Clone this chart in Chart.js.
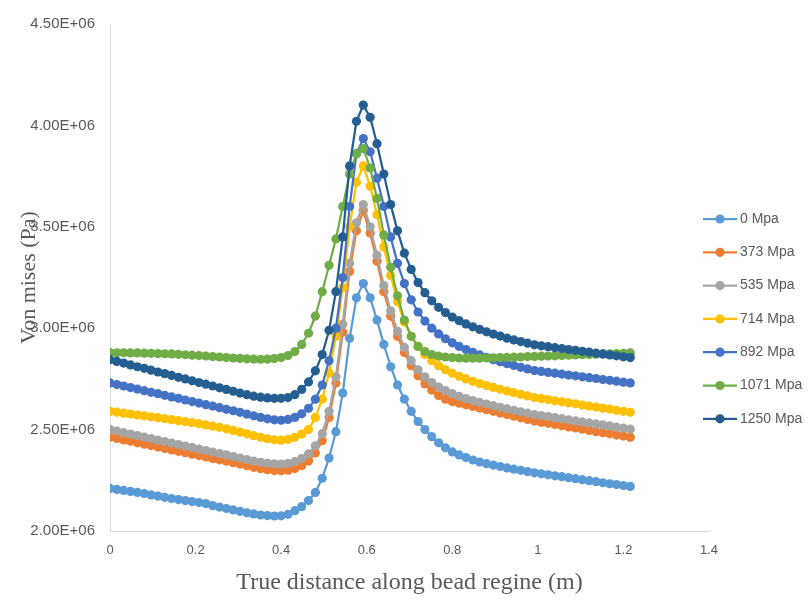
<!DOCTYPE html>
<html>
<head>
<meta charset="utf-8">
<script src="https://cdn.jsdelivr.net/npm/chart.js@4.4.1/dist/chart.umd.min.js"></script>
<style>
  body { margin: 0; background: #fff; }
  #wrap { width: 811px; height: 605px; }
</style>
</head>
<body>
<div id="wrap"><canvas id="vmChart" width="811" height="605"></canvas></div>
<script>
// distance along bead (m)
const distance = [
  0, 0.016, 0.032, 0.048, 0.064, 0.08, 0.096, 0.112, 0.128, 0.144,
  0.16, 0.176, 0.192, 0.208, 0.224, 0.24, 0.256, 0.272, 0.288, 0.304,
  0.32, 0.336, 0.352, 0.368, 0.384, 0.4, 0.416, 0.432, 0.448, 0.464,
  0.48, 0.496, 0.512, 0.528, 0.544, 0.56, 0.576, 0.592, 0.608, 0.624,
  0.64, 0.656, 0.672, 0.688, 0.704, 0.72, 0.736, 0.752, 0.768, 0.784,
  0.8, 0.816, 0.832, 0.848, 0.864, 0.88, 0.896, 0.912, 0.928, 0.944,
  0.96, 0.976, 0.992, 1.008, 1.024, 1.04, 1.056, 1.072, 1.088, 1.104,
  1.12, 1.136, 1.152, 1.168, 1.184, 1.2, 1.216
];

// von mises stress, in MPa (1 MPa = 1.00E+06 Pa)
const p0 = [
  2.210, 2.205, 2.200, 2.195, 2.190, 2.185, 2.178, 2.172, 2.166, 2.160,
  2.155, 2.150, 2.145, 2.140, 2.135, 2.125, 2.118, 2.111, 2.104, 2.097,
  2.090, 2.084, 2.079, 2.076, 2.074, 2.075, 2.082, 2.100, 2.120, 2.150,
  2.190, 2.260, 2.360, 2.490, 2.680, 2.950, 3.150, 3.220, 3.150, 3.040,
  2.920, 2.810, 2.720, 2.650, 2.590, 2.540, 2.500, 2.465, 2.435, 2.410,
  2.390, 2.375, 2.362, 2.350, 2.340, 2.332, 2.325, 2.318, 2.311, 2.305,
  2.299, 2.293, 2.287, 2.282, 2.277, 2.272, 2.268, 2.263, 2.258, 2.253,
  2.248, 2.243, 2.238, 2.233, 2.229, 2.224, 2.220
];
const p373 = [
  2.463, 2.456, 2.449, 2.442, 2.435, 2.428, 2.421, 2.414, 2.407, 2.400,
  2.393, 2.386, 2.379, 2.372, 2.365, 2.358, 2.351, 2.344, 2.337, 2.330,
  2.322, 2.314, 2.307, 2.302, 2.298, 2.297, 2.300, 2.308, 2.322, 2.345,
  2.385, 2.445, 2.560, 2.730, 2.980, 3.280, 3.480, 3.580, 3.470, 3.330,
  3.180, 3.060, 2.960, 2.880, 2.815, 2.765, 2.725, 2.695, 2.668, 2.650,
  2.638, 2.630, 2.622, 2.614, 2.606, 2.598, 2.590, 2.582, 2.574, 2.566,
  2.558, 2.550, 2.542, 2.536, 2.531, 2.525, 2.519, 2.513, 2.508, 2.502,
  2.496, 2.490, 2.485, 2.479, 2.473, 2.468, 2.462
];
const p535 = [
  2.500, 2.493, 2.485, 2.478, 2.471, 2.463, 2.456, 2.448, 2.441, 2.434,
  2.426, 2.419, 2.412, 2.404, 2.397, 2.389, 2.382, 2.375, 2.367, 2.360,
  2.352, 2.345, 2.339, 2.334, 2.331, 2.330, 2.333, 2.342, 2.357, 2.380,
  2.420, 2.480, 2.590, 2.760, 3.020, 3.320, 3.520, 3.610, 3.500, 3.360,
  3.210, 3.085, 2.985, 2.905, 2.840, 2.795, 2.760, 2.732, 2.710, 2.692,
  2.677, 2.664, 2.653, 2.643, 2.634, 2.626, 2.618, 2.610, 2.602, 2.595,
  2.588, 2.581, 2.574, 2.569, 2.564, 2.559, 2.554, 2.548, 2.543, 2.538,
  2.533, 2.528, 2.523, 2.518, 2.512, 2.507, 2.502
];
const p714 = [
  2.590, 2.586, 2.581, 2.577, 2.572, 2.568, 2.563, 2.559, 2.554, 2.549,
  2.544, 2.539, 2.534, 2.529, 2.523, 2.517, 2.511, 2.504, 2.496, 2.488,
  2.479, 2.470, 2.462, 2.455, 2.450, 2.448, 2.452, 2.462, 2.478, 2.500,
  2.560, 2.650, 2.780, 2.960, 3.200, 3.500, 3.720, 3.800, 3.700, 3.560,
  3.400, 3.260, 3.130, 3.030, 2.960, 2.910, 2.870, 2.840, 2.815, 2.795,
  2.778, 2.763, 2.750, 2.738, 2.727, 2.717, 2.708, 2.699, 2.690, 2.682,
  2.674, 2.666, 2.658, 2.653, 2.648, 2.642, 2.637, 2.632, 2.627, 2.621,
  2.616, 2.611, 2.606, 2.601, 2.595, 2.590, 2.585
];
const p892 = [
  2.730, 2.722, 2.715, 2.707, 2.700, 2.692, 2.684, 2.677, 2.669, 2.661,
  2.654, 2.646, 2.638, 2.631, 2.623, 2.616, 2.608, 2.600, 2.593, 2.585,
  2.576, 2.568, 2.560, 2.553, 2.548, 2.546, 2.550, 2.560, 2.578, 2.605,
  2.650, 2.720, 2.840, 3.000, 3.250, 3.600, 3.860, 3.935, 3.870, 3.740,
  3.600, 3.450, 3.320, 3.220, 3.140, 3.080, 3.035, 3.000, 2.972, 2.948,
  2.928, 2.910, 2.895, 2.881, 2.868, 2.856, 2.845, 2.835, 2.825, 2.816,
  2.807, 2.799, 2.791, 2.787, 2.782, 2.778, 2.774, 2.769, 2.765, 2.760,
  2.756, 2.752, 2.747, 2.743, 2.739, 2.734, 2.730
];
const p1071 = [
  2.880, 2.879, 2.879, 2.878, 2.878, 2.877, 2.876, 2.875, 2.874, 2.873,
  2.871, 2.869, 2.867, 2.865, 2.863, 2.860, 2.858, 2.855, 2.853, 2.851,
  2.849, 2.848, 2.847, 2.848, 2.850, 2.855, 2.865, 2.885, 2.920, 2.975,
  3.060, 3.180, 3.310, 3.440, 3.600, 3.760, 3.860, 3.885, 3.790, 3.640,
  3.460, 3.300, 3.160, 3.040, 2.960, 2.910, 2.885, 2.870, 2.862, 2.858,
  2.855, 2.853, 2.852, 2.852, 2.852, 2.853, 2.854, 2.855, 2.856, 2.857,
  2.858, 2.860, 2.861, 2.862, 2.863, 2.864, 2.866, 2.867, 2.868, 2.869,
  2.870, 2.871, 2.873, 2.874, 2.875, 2.876, 2.878
];
const p1250 = [
  2.845, 2.836, 2.828, 2.819, 2.810, 2.802, 2.793, 2.784, 2.776, 2.767,
  2.758, 2.750, 2.741, 2.732, 2.724, 2.715, 2.706, 2.698, 2.689, 2.680,
  2.672, 2.665, 2.660, 2.656, 2.654, 2.654, 2.658, 2.672, 2.698, 2.735,
  2.790, 2.870, 2.990, 3.180, 3.450, 3.800, 4.020, 4.100, 4.040, 3.910,
  3.760, 3.610, 3.480, 3.370, 3.290, 3.225, 3.175, 3.135, 3.103, 3.077,
  3.055, 3.037, 3.021, 3.007, 2.994, 2.982, 2.971, 2.961, 2.951, 2.942,
  2.934, 2.926, 2.918, 2.913, 2.909, 2.904, 2.900, 2.895, 2.891, 2.886,
  2.882, 2.877, 2.873, 2.868, 2.864, 2.859, 2.855
];

const seriesNames = ['0 Mpa', '373 Mpa', '535 Mpa', '714 Mpa', '892 Mpa', '1071 Mpa', '1250 Mpa'];
const seriesValues = [p0, p373, p535, p714, p892, p1071, p1250];
const seriesColors = ['#5B9BD5', '#ED7D31', '#A5A5A5', '#FFC000', '#4472C4', '#70AD47', '#255E91'];

const xTickLabels = ['0', '0.2', '0.4', '0.6', '0.8', '1', '1.2', '1.4'];
const yTickLabels = ['2.00E+06', '2.50E+06', '3.00E+06', '3.50E+06', '4.00E+06', '4.50E+06'];

const grey = '#595959';

const datasets = seriesNames.map((name, s) => ({
  label: name,
  data: distance.map((x, i) => ({ x: x, y: seriesValues[s][i] })),
  borderColor: seriesColors[s],
  backgroundColor: seriesColors[s],
  borderWidth: 2.25,
  pointRadius: 4.6,
  pointBorderWidth: 0,
  tension: 0,
  order: seriesNames.length - 1 - s // later series drawn on top, like excel
}));

// legend on the right: short line with a marker, then the name
const sideLegend = {
  id: 'sideLegend',
  afterDraw(chart) {
    const c = chart.ctx;
    const x0 = 703, x1 = 737, top = 219, step = 33.3;
    c.save();
    c.font = '14px "Liberation Sans", Arial, sans-serif';
    c.textBaseline = 'middle';
    c.textAlign = 'left';
    seriesNames.forEach((name, i) => {
      const y = top + i * step;
      c.strokeStyle = seriesColors[i];
      c.lineWidth = 2.25;
      c.beginPath();
      c.moveTo(x0, y);
      c.lineTo(x1, y);
      c.stroke();
      c.fillStyle = seriesColors[i];
      c.beginPath();
      c.arc((x0 + x1) / 2, y, 4.6, 0, Math.PI * 2);
      c.fill();
      c.fillStyle = grey;
      c.fillText(name, x1 + 3, y);
    });
    c.restore();
  }
};

const ctx = document.getElementById('vmChart').getContext('2d');

const vmChart = new Chart(ctx, {
  type: 'line',
  data: { datasets: datasets },
  options: {
    responsive: false,
    animation: false,
    layout: { padding: { top: 22, right: 102, bottom: 0, left: 0 } },
    plugins: {
      legend: { display: false },
      tooltip: { enabled: false }
    },
    scales: {
      x: {
        type: 'linear',
        min: 0,
        max: 1.4,
        grid: { display: false, drawTicks: false },
        border: { display: true, color: '#D9D9D9', width: 1 },
        ticks: {
          stepSize: 0.2,
          padding: 12,
          color: grey,
          font: { family: '"Liberation Sans", Arial, sans-serif', size: 13 },
          callback: (v, i) => xTickLabels[i]
        },
        title: {
          display: true,
          text: 'True distance along bead regine (m)',
          color: grey,
          font: { family: '"Liberation Serif", "Times New Roman", serif', size: 24 },
          padding: { top: 0, bottom: 8 }
        },
        afterFit: (scale) => { scale.height = 74; }
      },
      y: {
        min: 2,
        max: 4.5,
        grid: { display: false, drawTicks: false },
        border: { display: true, color: '#D9D9D9', width: 1 },
        ticks: {
          stepSize: 0.5,
          padding: 15,
          color: grey,
          font: { family: '"Liberation Sans", Arial, sans-serif', size: 15 },
          callback: (v, i) => yTickLabels[i]
        },
        title: {
          display: true,
          text: 'Von mises (Pa)',
          color: grey,
          font: { family: '"Liberation Serif", "Times New Roman", serif', size: 22 },
          padding: { top: 16, bottom: 0 }
        },
        afterFit: (scale) => { scale.width = 110; }
      }
    }
  },
  plugins: [sideLegend]
});
</script>
</body>
</html>
